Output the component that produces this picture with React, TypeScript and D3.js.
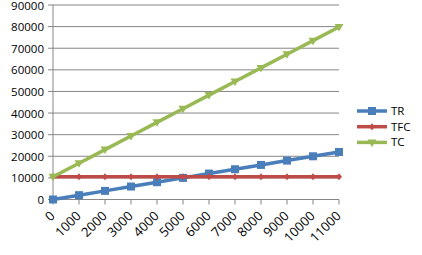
import React from "react";
import * as d3 from "d3";

const categories = ["0", "1000", "2000", "3000", "4000", "5000", "6000", "7000", "8000", "9000", "10000", "11000"];
const trValues = [0, 2000, 4000, 6000, 8000, 10000, 12000, 14000, 16000, 18000, 20000, 22000];
const tfcValues = [10500, 10500, 10500, 10500, 10500, 10500, 10500, 10500, 10500, 10500, 10500, 10500];
const tcValues = [10500, 16800, 23100, 29400, 35700, 42000, 48300, 54600, 60900, 67200, 73500, 79800];
const yTicks = [0, 10000, 20000, 30000, 40000, 50000, 60000, 70000, 80000, 90000];
const seriesNames = ["TR", "TFC", "TC"];

const W = 422, H = 255;
const FONT = "'Open Sans', sans-serif";

export default function App() {
  const x = d3.scalePoint<string>().domain(categories).range([53, 339]);
  const y = d3.scaleLinear().domain([0, 90000]).range([199.5, 5]);
  const colors = ["#4A7EBB", "#BE4B48", "#98B954"];
  const series = [trValues, tfcValues, tcValues];
  const line = (vals: number[]) =>
    d3.line<number>().x((_, i) => x(categories[i])!).y((v) => y(v))(vals)!;

  const marker = (k: number, cx: number, cy: number, key: string | number) => {
    if (k === 0) return <rect key={key} x={cx - 4} y={cy - 4} width={8} height={8} fill={colors[0]} />;
    if (k === 1)
      return <path key={key} d={`M${cx},${cy - 3.5}L${cx + 3},${cy}L${cx},${cy + 3.5}L${cx - 3},${cy}Z`} fill={colors[1]} />;
    return <path key={key} d={`M${cx - 4.5},${cy - 3}L${cx + 4.5},${cy - 3}L${cx},${cy + 4.5}Z`} fill={colors[2]} />;
  };

  return (
    <svg width={W} height={H} style={{ position: "absolute", left: 0, top: 0, background: "#fff" }}>
      <rect width={W} height={H} fill="#fff" />
      {yTicks.map((t) => (
        <g key={t}>
          {t > 0 && <line x1={53} x2={339} y1={y(t)} y2={y(t)} stroke="#868686" strokeWidth={1} />}
          <line x1={48} x2={53} y1={y(t)} y2={y(t)} stroke="#868686" strokeWidth={1} />
          <text x={44} y={y(t) + 0.5} dy="0.35em" textAnchor="end" fontFamily={FONT} fontSize={11.5} fill="#000">
            {t}
          </text>
        </g>
      ))}
      <line x1={53} x2={53} y1={5} y2={199.5} stroke="#868686" strokeWidth={1} />
      <line x1={53} x2={339} y1={199.5} y2={199.5} stroke="#868686" strokeWidth={1} />
      {categories.map((c) => (
        <g key={c}>
          <line x1={x(c)} x2={x(c)} y1={199.5} y2={204.5} stroke="#868686" strokeWidth={1} />
          <text
            transform={`translate(${x(c)! - 0.5},${213.5}) rotate(-45)`}
            textAnchor="end"
            dy="0.35em"
            fontFamily={FONT}
            fontSize={13}
            fill="#000"
          >
            {c}
          </text>
        </g>
      ))}
      {series.map((vals, k) => (
        <g key={k}>
          <path d={line(vals)} fill="none" stroke={colors[k]} strokeWidth={3.5} strokeLinejoin="round" />
          {vals.map((v, i) => marker(k, x(categories[i])!, y(v), i))}
        </g>
      ))}
      {seriesNames.map((n, k) => {
        const ly = 111 + k * 15.7;
        return (
          <g key={n}>
            <line x1={357} x2={387} y1={ly} y2={ly} stroke={colors[k]} strokeWidth={3.5} />
            {marker(k, 372, ly, "m")}
            <text x={391} y={ly} dy="0.35em" fontFamily={FONT} fontSize={11.5} fill="#000">
              {n}
            </text>
          </g>
        );
      })}
    </svg>
  );
}
